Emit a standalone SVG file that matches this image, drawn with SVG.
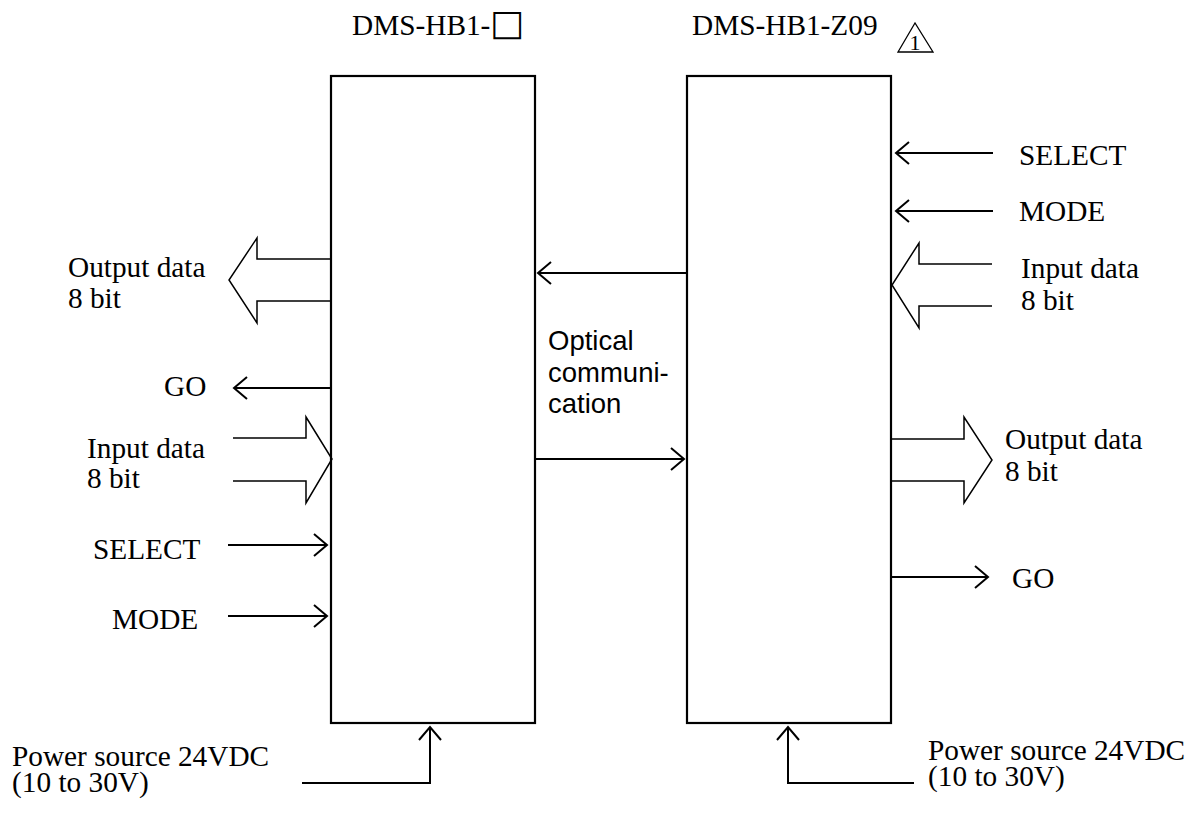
<svg xmlns="http://www.w3.org/2000/svg" width="1190" height="814" viewBox="0 0 1190 814">
<style>
.t{font-family:"Liberation Serif","DejaVu Serif",serif;font-size:29.3px;fill:#000}
.s{font-family:"Liberation Sans",Arial,sans-serif;font-size:27.5px;fill:#000}
.box{fill:#fff;stroke:#000;stroke-width:2.2}
.ln{fill:none;stroke:#000;stroke-width:2}
.big{fill:none;stroke:#000;stroke-width:1.5;stroke-linejoin:miter}
</style>
<defs>
<marker id="ah" viewBox="-15 -13 17 26" markerWidth="17" markerHeight="26" refX="0" refY="0" orient="auto" markerUnits="userSpaceOnUse">
<path d="M-13,-11 L0,0 L-13,11" fill="none" stroke="#000" stroke-width="2"/>
</marker>
<clipPath id="clipcat"><rect x="540" y="385" width="140" height="28"/></clipPath>
</defs>
<rect width="1190" height="814" fill="#fff"/>

<g id="title-left"><text class="t" x="352" y="35">DMS-HB1-<tspan style="font-family:'DejaVu Sans',sans-serif;font-size:36px">□</tspan></text></g>
<g id="title-right">
<text class="t" x="692" y="35">DMS-HB1-Z09</text>
<polygon points="915,23 898,52 933,52" fill="none" stroke="#000" stroke-width="1.3"/>
<text x="915" y="50" text-anchor="middle" style="font-family:'Liberation Serif',serif;font-size:22px">1</text>
</g>

<g id="node-left"><rect class="box" x="331" y="76" width="204" height="647"/></g>
<g id="node-right"><rect class="box" x="687" y="76" width="204" height="647"/></g>

<g id="connectors">
<line class="ln" x1="687" y1="273" x2="538" y2="273" marker-end="url(#ah)"/>
<line class="ln" x1="535" y1="459" x2="684" y2="459" marker-end="url(#ah)"/>
<polyline class="big" points="331,259 257,259 257,238 229,280 257,323 257,301 331,301"/>
<line class="ln" x1="331" y1="388" x2="234" y2="388" marker-end="url(#ah)"/>
<polyline class="big" points="233,438 306,438 306,417 332,459 306,503 306,481 233,481"/>
<line class="ln" x1="228" y1="545" x2="327" y2="545" marker-end="url(#ah)"/>
<line class="ln" x1="228" y1="616" x2="327" y2="616" marker-end="url(#ah)"/>
<line class="ln" x1="993" y1="153" x2="896" y2="153" marker-end="url(#ah)"/>
<line class="ln" x1="993" y1="211" x2="896" y2="211" marker-end="url(#ah)"/>
<polyline class="big" points="992,264 919,264 919,243 892,285 919,328 919,306 992,306"/>
<polyline class="big" points="891,439 964,439 964,417 992,460 964,503 964,481 891,481"/>
<line class="ln" x1="891" y1="577" x2="988" y2="577" marker-end="url(#ah)"/>
<polyline class="ln" points="302,783 430,783 430,727" marker-end="url(#ah)"/>
<polyline class="ln" points="914,783 788,783 788,727" marker-end="url(#ah)"/>
</g>

<g id="labels">
<text class="s" x="548" y="350">Optical</text>
<text class="s" x="548" y="382">communi-</text>
<text class="s" x="548" y="413" clip-path="url(#clipcat)">cation</text>

<text class="t" x="68" y="277">Output data</text>
<text class="t" x="68" y="308">8 bit</text>
<text class="t" x="164" y="396">GO</text>
<text class="t" x="87" y="458">Input data</text>
<text class="t" x="87" y="488">8 bit</text>
<text class="t" x="93" y="559">SELECT</text>
<text class="t" x="112" y="629">MODE</text>

<text class="t" x="1019" y="165">SELECT</text>
<text class="t" x="1019" y="221">MODE</text>
<text class="t" x="1021" y="278">Input data</text>
<text class="t" x="1021" y="310">8 bit</text>
<text class="t" x="1005" y="449">Output data</text>
<text class="t" x="1005" y="481">8 bit</text>
<text class="t" x="1012" y="588">GO</text>

<text class="t" x="12" y="766">Power source 24VDC</text>
<text class="t" x="12" y="792">(10 to 30V)</text>
<text class="t" x="928" y="760">Power source 24VDC</text>
<text class="t" x="928" y="786">(10 to 30V)</text>
</g>
</svg>
